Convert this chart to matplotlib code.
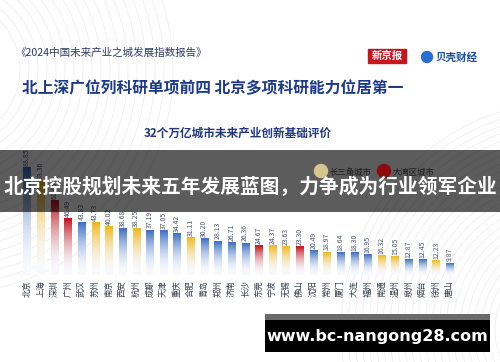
import numpy as np
import matplotlib
matplotlib.use('Agg')
import matplotlib.pyplot as plt
from matplotlib.colors import LinearSegmentedColormap
from matplotlib.patches import Rectangle, Circle

plt.rcParams['font.family'] = ['Noto Sans CJK SC', 'DejaVu Sans']

cities = ['北京', '上海', '深圳', '广州', '武汉', '苏州', '南京', '西安', '杭州', '成都',
          '天津', '重庆', '合肥', '青岛', '郑州', '济南', '长沙', '东莞', '宁波', '无锡',
          '佛山', '沈阳', '常州', '厦门', '大连', '福州', '南通', '温州', '泉州', '烟台',
          '徐州', '唐山']
scores = [88.85, 78.36, 61.46, 46.49, 43.83, 43.73, 40.02, 38.68, 38.25, 37.19,
          37.05, 34.42, 31.11, 30.20, 28.13, 26.71, 26.36, 24.67, 24.37, 23.63,
          23.30, 20.49, 18.97, 18.64, 18.30, 16.95, 16.32, 15.05, 12.87, 12.45,
          12.23, 9.87]
# 0 = 其他, 1 = 长三角城市, 2 = 大湾区城市
region = [0, 1, 2, 2, 0, 1, 1, 0, 1, 0,
          0, 0, 1, 0, 0, 0, 0, 2, 1, 1,
          2, 0, 1, 0, 0, 0, 1, 1, 0, 0,
          1, 0]
colors = {0: '#3c6fc6', 1: '#f3b71c', 2: '#c4121c'}

fig = plt.figure(figsize=(5, 3.62), dpi=100)

# background / layout axes in pixel units
bg = fig.add_axes([0, 0, 1, 1], zorder=0)
bg.set_xlim(0, 500)
bg.set_ylim(362, 0)
bg.axis('off')
for r in range(70, 230, 9):
    bg.add_patch(Circle((-50, 70), r, fill=False, ec='#eeeeee', lw=0.6))
for r in range(40, 230, 7):
    bg.add_patch(Circle((570, 330), r, fill=False, ec='#eeeeee', lw=0.6))

bg.text(15, 53, '《2024中国未来产业之城发展指数报告》', fontsize=7.6, color='#2b3b6b',
        ha='left', va='center')
bg.add_patch(Rectangle((368, 49), 38, 14, color='#c8161d'))
bg.text(387, 56, '新京报', fontsize=7.5, color='white', ha='center', va='center', weight='bold')
bg.add_patch(Circle((427, 57), 5.5, color='#2a6fd0'))
bg.text(436, 57, '贝壳财经', fontsize=7.6, color='#1a4fa0', ha='left', va='center', weight='bold')
bg.text(22, 88, '北上深广位列科研单项前四 北京多项科研能力位居第一', fontsize=11.3,
        color='#1d3a8a', ha='left', va='center', weight='bold')
bg.text(238, 133, '32个万亿城市未来产业创新基础评价', fontsize=8.4, color='#22397f',
        ha='center', va='center', weight='bold')

# bar chart
ax = fig.add_axes([0, 0.240, 1, 0.3334], zorder=1)
ax.patch.set_alpha(0)
x = np.arange(len(cities))
w = 0.52
grad = np.linspace(0, 1, 64).reshape(-1, 1)
for xi, v, rg in zip(x, scores, region):
    cmap = LinearSegmentedColormap.from_list('g', ['#f8fafd', colors[rg]])
    ax.imshow(grad ** 1.9, cmap=cmap, extent=[xi - w / 2, xi + w / 2, 0, v],
              origin='lower', aspect='auto', zorder=2)
    ax.text(xi, v + 1.5, f'{v:.2f}', rotation=90, ha='center', va='bottom',
            fontsize=5, color='#4a5670')
    ax.text(xi, -4, cities[xi], rotation=90, ha='center', va='top',
            fontsize=6, color='#333a4d', clip_on=False)
ax.set_xlim(-1.981, 34.70)
ax.set_ylim(0, 100)
ax.axis('off')

# overlays
ov = fig.add_axes([0, 0, 1, 1], zorder=3)
ov.set_xlim(0, 500)
ov.set_ylim(362, 0)
ov.axis('off')
ov.patch.set_alpha(0)
ov.add_patch(Rectangle((0, 150), 500, 62, color='black', alpha=0.64, lw=0))
ov.add_patch(Circle((321, 171), 6.5, color='#d6c68e'))
ov.text(330, 172, '长三角城市', fontsize=6, color='#1e1e1e', ha='left', va='center')
ov.add_patch(Circle((384, 171), 6.5, color='#8c0c0c'))
ov.text(393, 172, '大湾区城市', fontsize=6, color='#1e1e1e', ha='left', va='center')
ov.text(250, 187, '北京控股规划未来五年发展蓝图，力争成为行业领军企业', fontsize=14.2,
        color='white', ha='center', va='center', weight='bold')

ov.add_patch(Rectangle((265, 314), 225, 6, color='#6a6a6a', lw=0))
ov.add_patch(Rectangle((265, 320), 225, 32, color='black', lw=0))
ov.text(377, 336, 'www.bc-nangong28.com', fontsize=11.5, color='white',
        ha='center', va='center', weight='bold', family='DejaVu Sans')

fig.savefig('out.png', dpi=100)
